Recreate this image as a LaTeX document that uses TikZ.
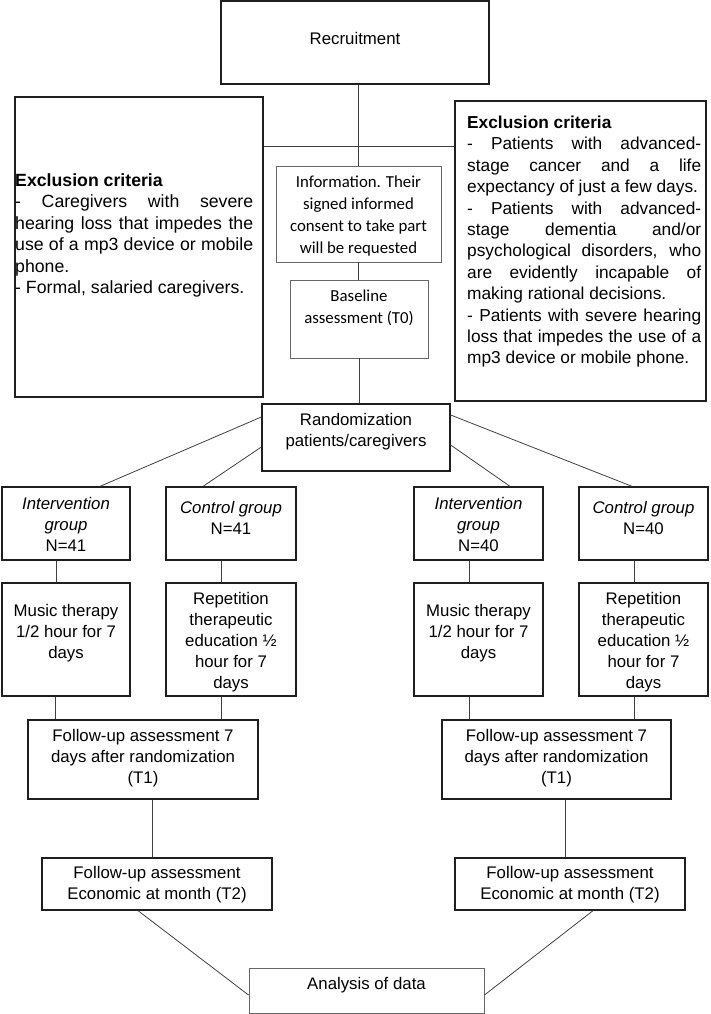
\documentclass[tikz,border=0pt]{standalone}
\usepackage{fontspec}
\setmainfont{Liberation Sans}
\newfontfamily\calib{Carlito}
\setlength{\parindent}{0pt}
\newcommand\fsA{\fontsize{16.8pt}{21pt}\selectfont}
\newcommand\fsC{\calib\fontsize{16.8pt}{22pt}\selectfont}
\newcommand\bxt[8]{%
  \node[#6, minimum width={#4-#2}, minimum height={#5-#3}] (#1) at ({(#2+#4)/2},{(#3+#5)/2}) {};
  \node[txt] (#1-t) at ({(#2+#4)/2},#7) {#8};}
\tikzset{
  box/.style={draw=black!88, line width=1.3pt, rectangle, inner sep=0pt},
  thinbox/.style={draw=black!60, line width=0.9pt, rectangle, inner sep=0pt},
  txt/.style={inner sep=0pt, align=center, font=\fsA},
  ctxt/.style={inner sep=0pt, align=center, font=\fsC},
  jtxt/.style={inner sep=0pt, align=justify, anchor=north west},
  link/.style={draw=black!75, line width=0.8pt},
}
\begin{document}
\begin{tikzpicture}[x=1pt, y=-1pt]
\useasboundingbox (0,0) rectangle (710,1014);

% top
\bxt{Rec}{221}{1}{489}{84}{box}{38}{Recruitment}

\node[box, minimum width=248, minimum height=300] (exL) at (139,247) {};
\node[jtxt, text width=238pt, font=\fontsize{17.7pt}{21.4pt}\selectfont] (exLt) at (15,173.5)
 {\textbf{Exclusion criteria}\\
 - Caregivers with severe\linebreak hearing loss that impedes the\linebreak use of a mp3 device or mobile\linebreak phone.\\
 - Formal, salaried caregivers.};

\node[box, minimum width=251, minimum height=300] (exR) at (580.5,251) {};
\node[jtxt, text width=234pt, font=\fontsize{17.3pt}{21.4pt}\selectfont] (exRt) at (467,115.8)
 {\textbf{Exclusion criteria}\\
 - Patients with advanced-\linebreak stage cancer and a life\linebreak expectancy of just a few days.\\
 - Patients with advanced-\linebreak stage dementia and/or\linebreak psychological disorders, who\linebreak are evidently incapable of\linebreak making rational decisions.\\
 - Patients with severe hearing\linebreak loss that impedes the use of a\linebreak mp3 device or mobile phone.};

\node[thinbox, minimum width=165, minimum height=96] (Info) at (358.5,214) {};
\node[ctxt] (Info-t) at (358.5,216) {Information. Their\\signed informed\\consent to take part\\will be requested};

\node[thinbox, minimum width=138, minimum height=78] (Base) at (359,319) {};
\node[ctxt] (Base-t) at (359,308) {Baseline\\assessment (T0)};

\bxt{Rand}{262}{404}{450}{471}{box}{431.5}{Randomization\\patients/caregivers}

% groups
\bxt{IG1}{2}{487}{130}{560}{box}{524}{\textit{Intervention}\\\textit{group}\\N=41}
\bxt{CG1}{166}{487}{296}{560}{box}{517.5}{\textit{Control group}\\N=41}
\bxt{IG2}{414}{487}{543}{560}{box}{524}{\textit{Intervention}\\\textit{group}\\N=40}
\bxt{CG2}{579}{487}{708}{560}{box}{517.5}{\textit{Control group}\\N=40}

\bxt{MT1}{2}{583}{130}{696}{box}{633.5}{Music therapy\\1/2 hour for 7\\days}
\bxt{RP1}{166}{583}{296}{696}{box}{642}{Repetition\\therapeutic\\education ½\\hour for 7\\days}
\bxt{MT2}{414}{583}{543}{696}{box}{633.5}{Music therapy\\1/2 hour for 7\\days}
\bxt{RP2}{579}{583}{708}{696}{box}{642}{Repetition\\therapeutic\\education ½\\hour for 7\\days}

\bxt{T1L}{28}{720}{258}{799}{box}{758}{Follow-up assessment 7\\days after randomization\\(T1)}
\bxt{T1R}{442}{720}{671}{799}{box}{758}{Follow-up assessment 7\\days after randomization\\(T1)}
\bxt{T2L}{42}{858}{272}{910}{box}{885}{Follow-up assessment\\Economic at month (T2)}
\bxt{T2R}{455}{858}{685}{910}{box}{885}{Follow-up assessment\\Economic at month (T2)}

\bxt{Ana}{249}{968}{484}{1013}{thinbox}{985}{Analysis of data}

% connectors
\draw[link] (Info.north) -- (Info.north |- Rec.south);
\coordinate (hj) at (359,146);
\draw[link] (hj -| exL.east) -- (hj -| exR.west);
\draw[link] (Info.south) -- (Info.south |- Base.north);
\draw[link] (Base.south) -- (Base.south |- Rand.north);

\draw[link] ([yshift=20.5pt]Rand.west) -- ([xshift=34pt]IG1.north);
\draw[link] ([yshift=-9.5pt]Rand.west) -- ([xshift=-28pt]CG1.north);
\draw[link] ([yshift=22.5pt]Rand.east) -- ([xshift=-11.5pt]CG2.north);
\draw[link] ([yshift=-7.5pt]Rand.east) -- ([xshift=31.5pt]IG2.north);

\draw[link] ([xshift=-10pt]IG1.south) -- ([xshift=-10pt]IG1.south |- MT1.north);
\draw[link] ([xshift=-10pt]CG1.south) -- ([xshift=-10pt]CG1.south |- RP1.north);
\draw[link] ([xshift=-9.5pt]IG2.south) -- ([xshift=-9.5pt]IG2.south |- MT2.north);
\draw[link] ([xshift=-9.5pt]CG2.south) -- ([xshift=-9.5pt]CG2.south |- RP2.north);

\draw[link] ([xshift=-11pt]MT1.south) -- ([xshift=-11pt]MT1.south |- T1L.north);
\draw[link] ([xshift=-10pt]RP1.south) -- ([xshift=-10pt]RP1.south |- T1L.north);
\draw[link] ([xshift=-9.5pt]MT2.south) -- ([xshift=-9.5pt]MT2.south |- T1R.north);
\draw[link] ([xshift=-9.5pt]RP2.south) -- ([xshift=-9.5pt]RP2.south |- T1R.north);

\draw[link] ([xshift=9pt]T1L.south) -- ([xshift=9pt]T1L.south |- T2L.north);
\draw[link] ([xshift=8.5pt]T1R.south) -- ([xshift=8.5pt]T1R.south |- T2R.north);

\draw[link] ([xshift=-19pt]T2L.south) -- ([yshift=-4.5pt]Ana.west);
\draw[link] ([xshift=23pt]T2R.south) -- ([yshift=-4.5pt]Ana.east);
\end{tikzpicture}
\end{document}
